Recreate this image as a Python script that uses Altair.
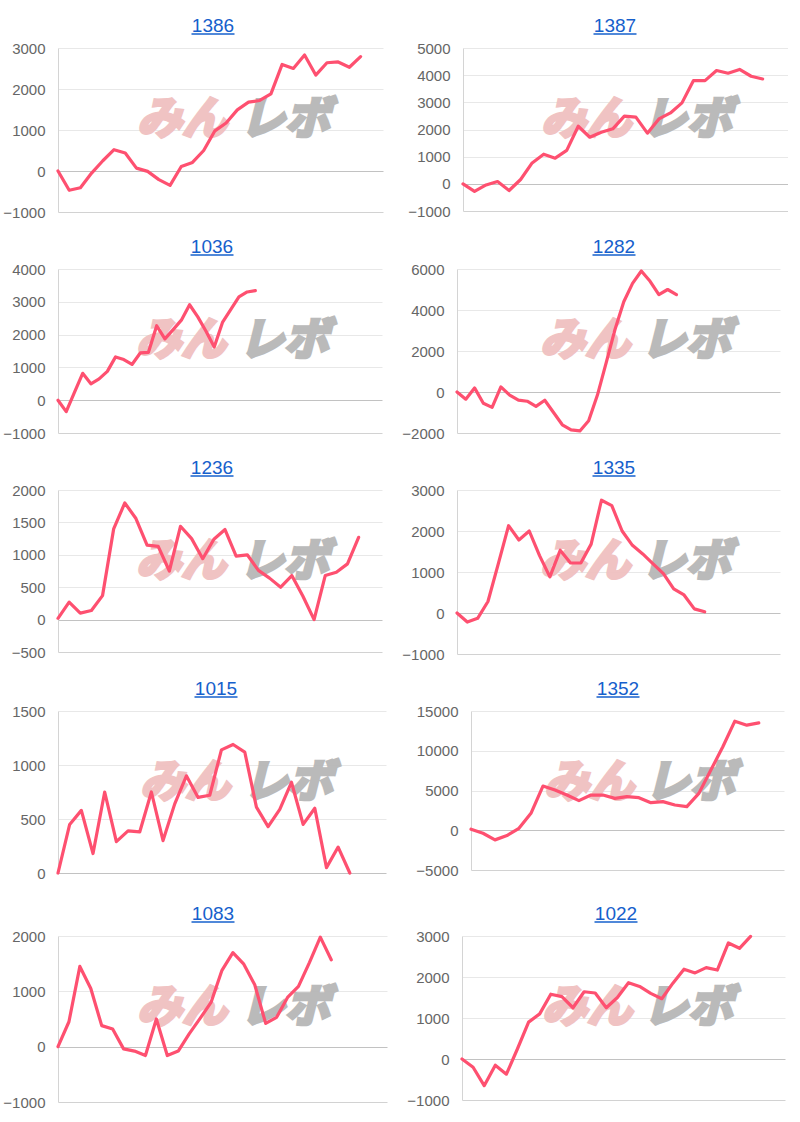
import altair as alt
import pandas as pd

# ---------------- data ----------------
titles = ["1386", "1387", "1036", "1282", "1236", "1335", "1015", "1352", "1083", "1022"]

s1386 = [0, -470, -410, -50, 250, 520, 440, 70, -10, -210, -350, 110, 210, 500, 980, 1170,
         1490, 1680, 1720, 1880, 2600, 2500, 2830, 2340, 2640, 2660, 2530, 2790]
s1387 = [0, -280, -40, 85, -245, 160, 770, 1090, 945, 1230, 2120, 1715, 1900, 2025, 2490,
         2455, 1865, 2390, 2610, 2980, 3800, 3800, 4170, 4070, 4210, 3960, 3860]
s1036 = [0, -350, 240, 820, 500, 650, 880, 1320, 1240, 1090, 1440, 1460, 2270, 1870, 2150,
         2440, 2910, 2540, 2100, 1620, 2370, 2760, 3150, 3300, 3340]
s1282 = [0, -350, 200, -550, -750, 250, -150, -400, -450, -700, -400, -1000, -1600, -1850,
         -1900, -1400, -150, 1430, 3050, 4400, 5300, 5900, 5400, 4750, 5000, 4750]
s1236 = [20, 270, 100, 140, 370, 1400, 1800, 1560, 1150, 1130, 750, 1440, 1250, 940, 1240,
         1390, 980, 1000, 760, 640, 500, 680, 360, 0, 680, 730, 860, 1270]
s1335 = [0, -220, -130, 280, 1200, 2130, 1780, 2000, 1400, 880, 1530, 1220, 1220, 1680, 2750,
         2620, 2000, 1650, 1440, 1200, 960, 590, 440, 100, 30]
s1015 = [0, 450, 580, 180, 750, 290, 390, 380, 750, 300, 640, 900, 700, 720, 1140, 1190, 1120,
         610, 430, 590, 840, 450, 600, 50, 240, 0]
s1352 = [125, -380, -1210, -670, 250, 2130, 5560, 5060, 4430, 3720, 4430, 4430, 4010, 4220,
         4100, 3470, 3600, 3180, 2970, 4640, 7570, 10500, 13720, 13220, 13500]
s1083 = [0, 450, 1450, 1050, 380, 320, -40, -80, -160, 500, -160, -80, 230, 510, 800, 1380,
         1700, 1490, 1120, 420, 530, 890, 1090, 1520, 1980, 1570]
s1022 = [0, -200, -650, -150, -370, 250, 900, 1100, 1580, 1520, 1250, 1640, 1610, 1250, 1500,
         1860, 1770, 1600, 1470, 1850, 2190, 2100, 2230, 2170, 2830, 2700, 2990]

series = [s1386, s1387, s1036, s1282, s1236, s1335, s1015, s1352, s1083, s1022]

y_ticks = [
    [-1000, 0, 1000, 2000, 3000],
    [-1000, 0, 1000, 2000, 3000, 4000, 5000],
    [-1000, 0, 1000, 2000, 3000, 4000],
    [-2000, 0, 2000, 4000, 6000],
    [-500, 0, 500, 1000, 1500, 2000],
    [-1000, 0, 1000, 2000, 3000],
    [0, 500, 1000, 1500],
    [-5000, 0, 5000, 10000, 15000],
    [-1000, 0, 1000, 2000],
    [-1000, 0, 1000, 2000, 3000],
]

# number of category slots on each x axis (last index position at right edge)
x_max = [29.0, 28.2, 39.4, 36.8, 29.1, 31.3, 28.1, 26.1, 30.1, 29.1]

watermark_left = "みん"
watermark_right = "レボ"

# ---------------- layout / style ----------------
plot_left = [57, 462, 58, 457, 58, 457, 54, 467, 57, 460]
plot_right = [382, 787, 382, 780, 382, 780, 382, 780, 386, 783]
plot_h = [164, 163, 164, 164, 162, 164, 162, 159, 166, 164]
E_R = 58

LINE = "#fe5070"
TITLE_BLUE = "#1660cc"
GRID = "#e8e8e8"
FONT = "Liberation Sans"
CJK = "Noto Sans CJK JP"


def panel(i):
    col = i % 2
    W = plot_right[i] - plot_left[i]
    H = plot_h[i]
    ext = plot_left[i] if col == 0 else E_R
    vals = series[i]
    df = pd.DataFrame({"x": list(range(len(vals))), "v": vals})
    ymin, ymax = y_ticks[i][0], y_ticks[i][-1]

    grid_color = {
        "condition": [
            {"test": "datum.value === 0", "value": "#c2c2c2"},
            {"test": f"datum.value === {ymin}", "value": "#d2d2d2"},
        ],
        "value": GRID,
    }

    base = alt.Chart(df)
    x_enc = alt.X("x:Q", scale=alt.Scale(domain=[0, x_max[i]], nice=False, zero=False), axis=None)
    y_enc = alt.Y(
        "v:Q",
        scale=alt.Scale(domain=[ymin, ymax], nice=False, zero=False),
        axis=alt.Axis(
            values=y_ticks[i], format="d", title=None, grid=True, gridColor=grid_color,
            gridWidth=1, ticks=False, labelPadding=13, labelFont=FONT, labelFontSize=15,
            labelColor="#666666", domain=True, domainColor="#d4d4d4", domainWidth=1,
            minExtent=ext, maxExtent=ext, labelBound=False, labelFlush=False,
            labelOverlap=False,
        ),
    )

    title_cx = (212 if col == 0 else 614) - plot_left[i]
    pink_cx = (181 if col == 0 else 585) - plot_left[i]
    grey_cx = (284 if col == 0 else 686) - plot_left[i]

    # watermark (drawn under the line)
    wm_df = pd.DataFrame({"t": [watermark_left]})
    wm2_df = pd.DataFrame({"t": [watermark_right]})
    wm1 = alt.Chart(wm_df).mark_text(
        font=CJK, fontSize=45, fontWeight="bold", fontStyle="italic",
        color="#f0c0c0", stroke="#f0c0c0", strokeWidth=3.5, opacity=0.95,
        align="center", baseline="middle",
    ).encode(text="t:N", x=alt.value(pink_cx), y=alt.value(72))
    wm2 = alt.Chart(wm2_df).mark_text(
        font=CJK, fontSize=45, fontWeight="bold", fontStyle="italic",
        color="#b7b7b7", stroke="#b7b7b7", strokeWidth=3.5, opacity=0.95,
        align="center", baseline="middle",
    ).encode(text="t:N", x=alt.value(grey_cx), y=alt.value(72))

    line = base.mark_line(color=LINE, strokeWidth=3.2, strokeJoin="round", strokeCap="round").encode(
        x=x_enc, y=y_enc
    )

    tdf = pd.DataFrame({"t": [titles[i]]})
    title = alt.Chart(tdf).mark_text(
        font=FONT, fontSize=19, color=TITLE_BLUE, align="center", baseline="alphabetic",
    ).encode(text="t:N", x=alt.value(title_cx), y=alt.value(-16))
    underline = alt.Chart(tdf).mark_rule(color=TITLE_BLUE, strokeWidth=1.5).encode(
        x=alt.value(title_cx - 21.5), x2=alt.value(title_cx + 21.5), y=alt.value(-14)
    )

    return alt.layer(wm1, wm2, line, title, underline).properties(width=W, height=H)


row_spacing = [22, 17, 17, 27, 17]
rows = []
for r in range(5):
    rows.append(alt.hconcat(panel(2 * r), panel(2 * r + 1), spacing=row_spacing[r]))

top4 = alt.vconcat(*rows[:4], spacing=18)
chart = alt.vconcat(top4, rows[4], spacing=24).properties(
    padding={"left": 0, "top": 17, "right": 0, "bottom": 0},
    background="white",
).configure_view(stroke=None).configure_axisY(labelOverlap=False)

chart.save("out.html", embed_options={"renderer": "svg", "actions": False})
